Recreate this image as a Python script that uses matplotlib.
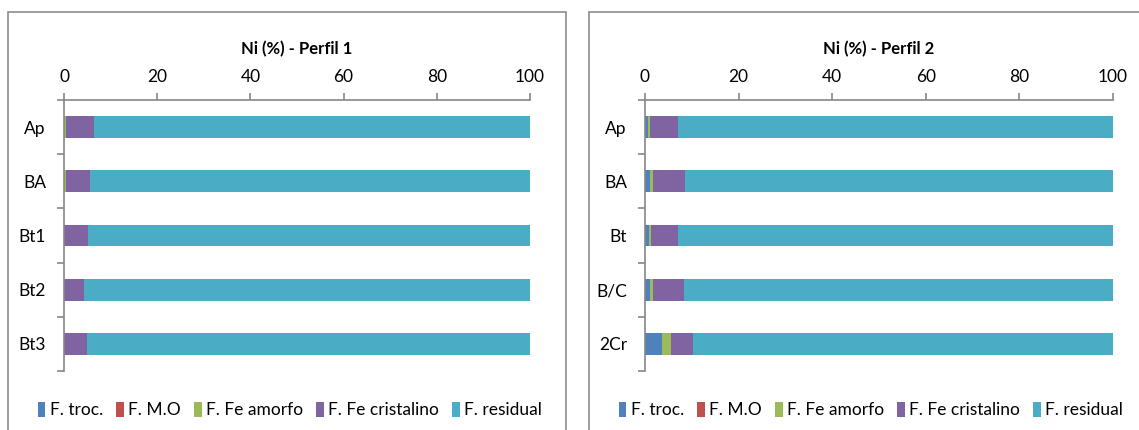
import matplotlib.pyplot as plt
import numpy as np
from matplotlib.patches import Rectangle

plt.rcParams['font.family'] = ['Lato', 'DejaVu Sans']

fractions = ['F. troc.', 'F. M.O', 'F. Fe amorfo', 'F. Fe cristalino', 'F. residual']
colors = ['#4F81BD', '#C0504D', '#9BBB59', '#8064A2', '#4BACC6']

# perfil 1
horiz1 = ['Ap', 'BA', 'Bt1', 'Bt2', 'Bt3']
troc1 = [0.0, 0.0, 0.0, 0.0, 0.0]
mo1 = [0.0, 0.0, 0.0, 0.0, 0.0]
amorfo1 = [0.35, 0.35, 0.0, 0.0, 0.0]
crist1 = [6.0, 5.2, 5.2, 4.3, 4.9]

# perfil 2
horiz2 = ['Ap', 'BA', 'Bt', 'B/C', '2Cr']
troc2 = [0.6, 1.0, 0.8, 1.0, 3.7]
mo2 = [0.0, 0.0, 0.0, 0.0, 0.0]
amorfo2 = [0.4, 0.65, 0.5, 0.65, 1.85]
crist2 = [6.0, 6.9, 5.75, 6.6, 4.8]

W, H = 1139, 430
fig = plt.figure(figsize=(W / 100, H / 100), dpi=100)

grey = '#868686'


def residual(*parts):
    return list(100 - np.sum(parts, axis=0))


def draw(ax, labels, series, title):
    y = np.arange(len(labels))
    left = np.zeros(len(labels))
    for vals, c, name in zip(series, colors, fractions):
        ax.barh(y, vals, left=left, height=0.4, color=c, label=name)
        left += np.array(vals)
    ax.set_xlim(0, 100)
    ax.set_ylim(len(labels) - 0.5, -0.5)
    ax.set_xticks([0, 20, 40, 60, 80, 100])
    ax.xaxis.tick_top()
    ax.set_yticks(y)
    ax.set_yticklabels(labels)
    ax.set_yticks(np.arange(-0.5, len(labels)), minor=True)
    ax.tick_params(axis='y', which='major', length=0, pad=13, labelsize=12.5)
    ax.tick_params(axis='y', which='minor', length=5, color=grey, width=1.2)
    ax.tick_params(axis='x', length=5, color=grey, width=1.2, pad=6, labelsize=12.5)
    for s in ['bottom', 'right']:
        ax.spines[s].set_visible(False)
    for s in ['top', 'left']:
        ax.spines[s].set_color(grey)
        ax.spines[s].set_linewidth(1.2)
    ax.set_title(title, fontsize=12, fontweight='bold', pad=33)


ax1 = fig.add_axes([64 / W, 59 / H, 466 / W, 271 / H])
draw(ax1, horiz1, [troc1, mo1, amorfo1, crist1, residual(troc1, mo1, amorfo1, crist1)],
     'Ni (%) - Perfil 1')
ax2 = fig.add_axes([645 / W, 59 / H, 468 / W, 271 / H])
draw(ax2, horiz2, [troc2, mo2, amorfo2, crist2, residual(troc2, mo2, amorfo2, crist2)],
     'Ni (%) - Perfil 2')

# chart frames
for x0, x1 in [(8, 566), (589, 1145)]:
    fig.patches.append(Rectangle((x0 / W, -0.05), (x1 - x0) / W, (H - 12) / H + 0.05,
                                 transform=fig.transFigure, fill=False,
                                 edgecolor='#8C8C8C', linewidth=1.2))

handles, labels = ax1.get_legend_handles_labels()
for cx in [290, 871]:
    fig.legend(handles, labels, loc='center', bbox_to_anchor=(cx / W, 20 / H), ncol=5,
               frameon=False, fontsize=12.5, handlelength=0.45, handleheight=1.0,
               handletextpad=0.25, columnspacing=0.75)

fig.savefig('out.png', dpi=100)
